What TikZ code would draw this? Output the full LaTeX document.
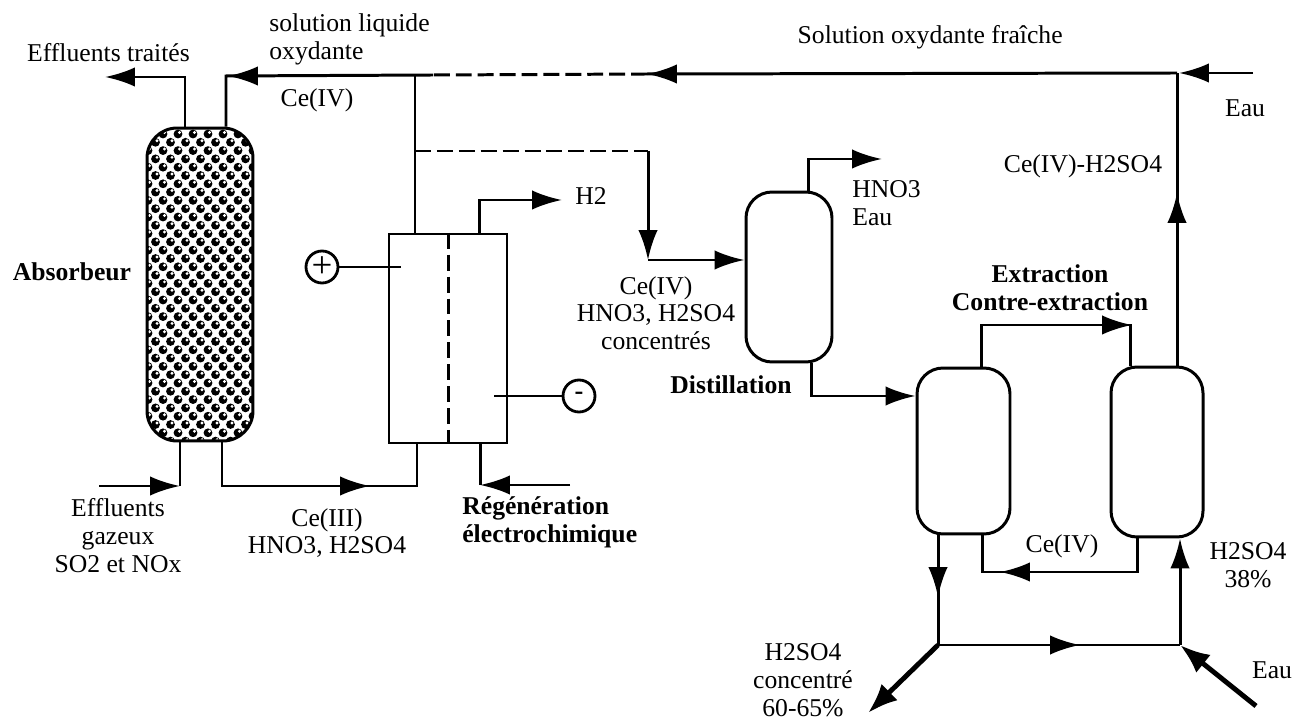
\documentclass[tikz,border=0pt]{standalone}
\usepackage{fontspec}
\setmainfont{Liberation Serif}
\usetikzlibrary{arrows.meta, positioning}
\tikzset{
    etiq/.style={inner sep=0pt, align=center, font=\fontsize{14.6}{15.8}\selectfont},
    etiqb/.style={etiq, font=\fontsize{14.6}{15.8}\selectfont\bfseries},
    pipe/.style={line width=1.7pt, line join=miter},
    pipeh/.style={pipe, -{Latex[length=17pt,width=11pt]}},
    forte/.style={line width=2.8pt, -{Latex[length=17pt,width=13pt]}},
    tiret/.style={pipe, dash pattern=on 16*0.5669pt off 6*0.5669pt},
    colonne/.style={draw, line width=1.7pt, inner sep=0pt, rounded corners=0.52cm},
    borne/.style={draw, circle, line width=1.6pt, inner sep=0pt, minimum size=0.64cm},
}
\begin{document}
\begin{tikzpicture}[x=0.02cm,y=-0.02cm]
\useasboundingbox (0,0) rectangle (1294,722);

% packing
\begin{scope}
\clip[rounded corners=0.6cm] (147,128) rectangle (253,441);
\foreach \row in {0,...,37} {
    \foreach \col in {0,...,7} {
        \pgfmathsetmacro{\bx}{148+15*\col+7.5*mod(\row,2)}
        \pgfmathsetmacro{\by}{134+8.3*\row}
        \fill (\bx,\by) circle (4.4);
        \fill[white] (\bx+1.5,\by-1.5) circle (1.6);
    }
}
\end{scope}

% equipment
\node[colonne, rounded corners=0.6cm, minimum width=2.12cm, minimum height=6.26cm] (abs) at (200,284.5) {};
\node[draw, line width=1.4pt, inner sep=0pt, minimum width=2.36cm, minimum height=4.18cm] (elec) at (448,338.5) {};
\node[colonne, minimum width=1.72cm, minimum height=3.4cm] (dist) at (789,277) {};
\node[colonne, minimum width=1.86cm, minimum height=3.32cm] (extr) at (963.5,451) {};
\node[colonne, minimum width=1.84cm, minimum height=3.4cm] (cextr) at (1157,452) {};
\node[borne, font=\fontsize{21}{21}\selectfont] (plus) at (322,267) {+};
\node[borne, font=\fontsize{15}{15}\selectfont\bfseries] (moins) at (579,396) {-};

% free ends and junctions
\coordinate (effT) at (105,77);
\coordinate (oxA) at (226,76);
\coordinate (jA) at (415,76);
\coordinate (jB) at (415,151);
\coordinate (jC) at (648,151);
\coordinate (jD) at (648,260);
\coordinate (tipA) at (647,74);
\coordinate (jE) at (1177,73);
\coordinate (tipE) at (1179,73);
\coordinate (eauA) at (1253,73);
\coordinate (tipF) at (1177,193);
\coordinate (h2) at (562,200);
\coordinate (hno) at (882,159);
\coordinate (effE) at (99,486);
\coordinate (tipC) at (370,486);
\coordinate (regE) at (570,485);
\coordinate (tipG) at (1132,325);
\coordinate (jF) at (938,645);
\coordinate (jG) at (1180,645);
\coordinate (tipH) at (938,597);
\coordinate (tipI) at (1080,645);
\coordinate (tipJ) at (1000,572);
\coordinate (fond) at (868,713);
\coordinate (eauB) at (1256,706);

% absorber connections
\draw[pipeh] (abs.north -| 185,0) |- (effT);
\draw[pipe] (jE) -- (tipA);
\draw[pipeh] (700,74) -- (tipA);
\draw[tiret] (tipA) -- (433,75);
\draw[pipe] (433,75) -- (oxA) -- (abs.north -| oxA);
\draw[pipeh] (300,76) -- (228,76);
\draw[pipeh] (eauA) -- (tipE);
\draw[pipeh] (effE) -- (180,486);
\draw[pipe] (180,486) -- (abs.south -| 180,0);
\draw[pipe] (abs.south -| 222,0) |- (417,486) -- (elec.south -| 417,0);
\draw[pipeh] (300,486) -- (tipC);

% cell
\draw[pipe] (jA) -- (elec.north -| jA);
\draw[tiret] (elec.north -| 448,0) -- (elec.south -| 448,0);
\draw[pipeh] (elec.north -| 479,0) |- (h2);
\draw[pipeh] (regE) -- (480,485);
\draw[pipe] (480,485) -- (elec.south -| 480,0);
\draw[pipe, line width=1.2pt] (plus) -- (401,267);
\draw[pipe, line width=1.2pt] (moins) -- (494,396);

% distillation
\draw[tiret] (jB) -- (jC);
\draw[pipeh] (jC) -- (jD);
\draw[pipeh] (jD) -- (dist.west |- jD);
\draw[pipeh] (dist.north -| 808,0) |- (hno);
\draw[pipeh] (dist.south -| 811,0) |- (extr.west |- 0,396);

% extraction
\draw[pipe] (extr.north -| 981,0) |- (1130,325) -- (cextr.north -| 1130,0);
\draw[pipeh] (1050,325) -- (tipG);
\draw[pipe] (cextr.north -| jE) -- (jE);
\draw[pipeh] (1177,260) -- (tipF);
\draw[pipe] (cextr.south -| 1137,0) |- (982,572) -- (extr.south -| 982,0);
\draw[pipeh] (1060,572) -- (tipJ);
\draw[pipe] (extr.south -| jF) -- (jF) -- (jG);
\draw[pipeh] (938,550) -- (tipH);
\draw[pipeh] (1000,645) -- (tipI);
\draw[pipeh] (jG) -- (cextr.south -| jG);
\draw[forte] (jF) -- (fond);
\draw[forte] (eauB) -- (jG);

% labels
\node[etiq] (l1) at (108.5,53) {Effluents traités};
\node[etiq, anchor=west, align=left] (l2) at (269,39.5) {solution liquide\\oxydante};
\node[etiq] (l3) at (317,100) {Ce(IV)};
\node[etiqb] (l4) at (72,272) {Absorbeur};
\node[etiq, anchor=west] (l5) at (575,196) {H2};
\node[etiq] (l6) at (656,313) {Ce(IV)\\HNO3, H2SO4\\concentrés};
\node[etiqb] (l7) at (731,385) {Distillation};
\node[etiq, anchor=west, align=left] (l8) at (852,203.5) {HNO3\\Eau};
\node[etiq, anchor=east] (l9) at (1063,37) {Solution oxydante fraîche};
\node[etiq] (l10) at (1245,108) {Eau};
\node[etiq] (l11) at (1083,166) {Ce(IV)-H2SO4};
\node[etiqb] (l12) at (1050,288) {Extraction\\Contre-extraction};
\node[etiq] (l13) at (1062,546) {Ce(IV)};
\node[etiq] (l14) at (1248,565) {H2SO4\\38\%};
\node[etiq] (l15) at (1272,670) {Eau};
\node[etiq] (l16) at (803,680) {H2SO4\\concentré\\60-65\%};
\node[etiq] (l17) at (118,535.5) {Effluents\\gazeux\\SO2 et NOx};
\node[etiq] (l18) at (327,533) {Ce(III)\\HNO3, H2SO4};
\node[etiqb, anchor=west, align=left] (l19) at (462,522) {Régénération\\électrochimique};
\end{tikzpicture}
\end{document}
